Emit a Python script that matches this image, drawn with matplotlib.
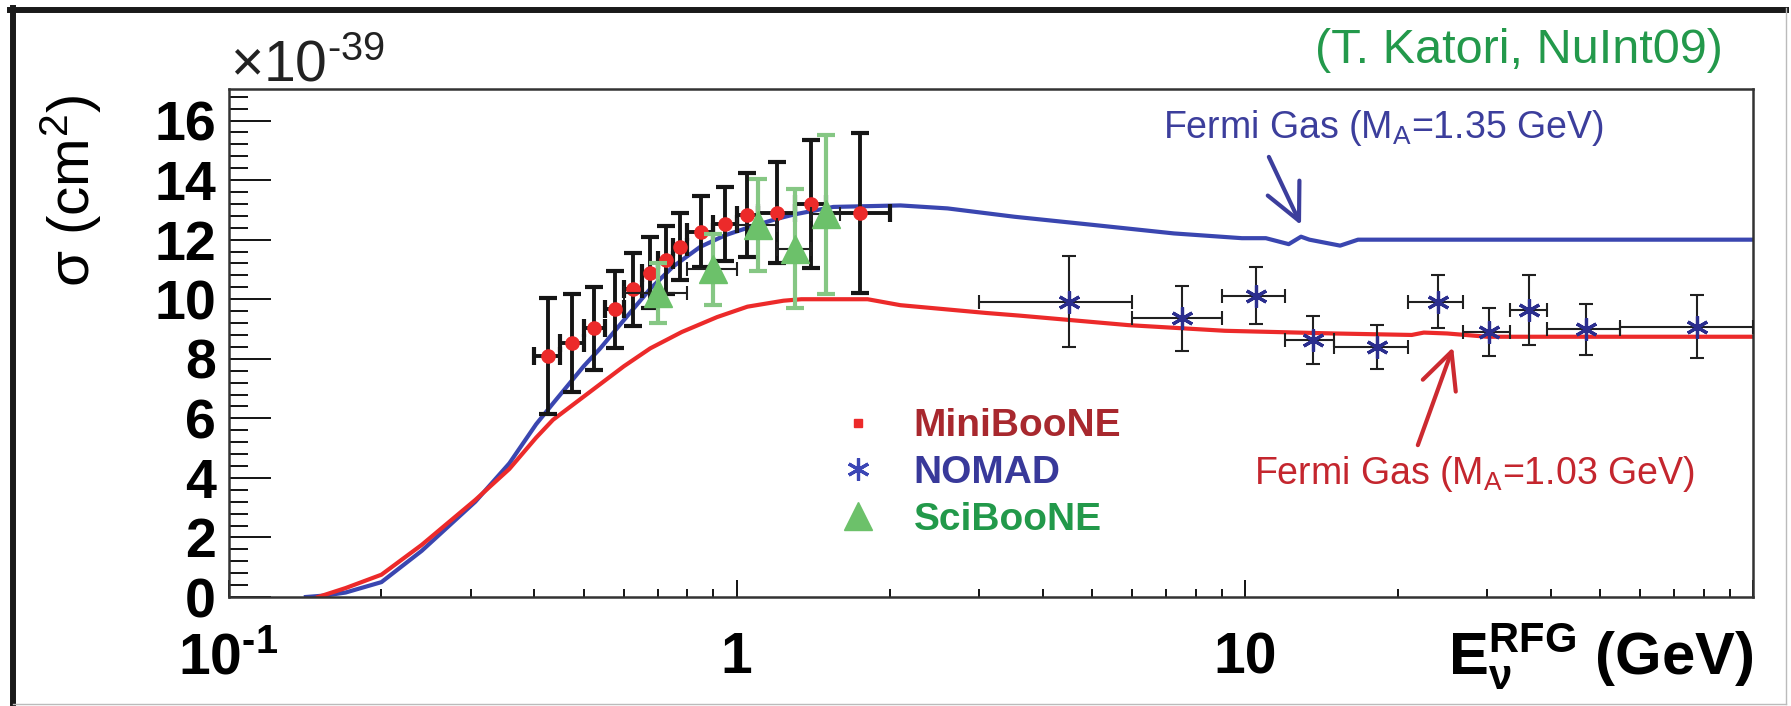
import numpy as np
import matplotlib.pyplot as plt
from matplotlib.lines import Line2D
from matplotlib.ticker import FixedLocator, LogLocator, MultipleLocator, NullFormatter

plt.rcParams['font.family'] = ['Liberation Sans', 'DejaVu Sans']
plt.rcParams['font.weight'] = 'bold'
plt.rcParams['mathtext.fontset'] = 'custom'
plt.rcParams['mathtext.rm'] = 'Liberation Sans'
plt.rcParams['mathtext.it'] = 'Liberation Sans:italic'
plt.rcParams['mathtext.bf'] = 'Liberation Sans:bold'
plt.rcParams['mathtext.default'] = 'regular'

# RFG predictions (x1e-39 cm^2) vs neutrino energy (GeV)
ma135_e = [0.142, 0.155, 0.17, 0.2, 0.24, 0.306, 0.357, 0.403, 0.435, 0.5, 0.539, 0.6,
           0.676, 0.75, 0.848, 0.95, 1.064, 1.2, 1.3, 1.55, 2.1, 2.6, 3.52, 5.0, 7.25,
           9.87, 11.0, 12.2, 12.9, 13.4, 15.4, 16.7, 100.0]
ma135_xs = [0.0, 0.05, 0.15, 0.5, 1.55, 3.2, 4.49, 5.8, 6.5, 7.75, 8.35, 9.3,
            10.35, 11.1, 11.76, 12.15, 12.43, 12.7, 12.85, 13.1, 13.15, 13.05, 12.77, 12.5, 12.21,
            12.05, 12.05, 11.85, 12.1, 12.0, 11.8, 12.0, 12.0]
ma103_e = [0.15, 0.17, 0.2, 0.24, 0.306, 0.357, 0.403, 0.435, 0.493, 0.539, 0.6,
           0.676, 0.78, 0.915, 1.05, 1.236, 1.34, 1.81, 2.1, 3.09, 3.6, 5.9, 9.14,
           15.0, 21.3, 22.5, 25.0, 30.0, 100.0]
ma103_xs = [0.0, 0.3, 0.75, 1.75, 3.26, 4.3, 5.35, 5.95, 6.65, 7.15, 7.75,
            8.35, 8.9, 9.4, 9.75, 9.95, 10.0, 10.0, 9.8, 9.54, 9.45, 9.13, 8.94,
            8.85, 8.8, 8.88, 8.85, 8.74, 8.74]

# MiniBooNE
mb_e = [0.425, 0.475, 0.525, 0.575, 0.625, 0.675, 0.725, 0.775, 0.85, 0.95, 1.05, 1.2, 1.4, 1.75]
mb_de = [0.025, 0.025, 0.025, 0.025, 0.025, 0.025, 0.025, 0.025, 0.05, 0.05, 0.05, 0.1, 0.1, 0.25]
mb_xs = [8.09, 8.54, 9.02, 9.66, 10.33, 10.89, 11.32, 11.76, 12.27, 12.52, 12.83, 12.9, 13.2, 12.9]
mb_err = [1.95, 1.65, 1.4, 1.3, 1.22, 1.2, 1.14, 1.12, 1.2, 1.25, 1.4, 1.7, 2.15, 2.68]

# SciBooNE
sb_e = [0.7, 0.9, 1.1, 1.3, 1.5]
sb_de = [0.1, 0.1, 0.1, 0.1, 0.1]
sb_xs = [10.2, 11.0, 12.5, 11.7, 12.85]
sb_err = [1.0, 1.18, 1.55, 2.0, 2.68]

# NOMAD
nd_e = [4.5, 7.53, 10.5, 13.6, 18.2, 24.0, 30.3, 36.2, 46.9, 77.5]
nd_lo = [3.0, 6.0, 9.0, 12.0, 15.0, 20.9, 26.9, 33.2, 39.3, 54.8]
nd_hi = [6.0, 9.0, 12.0, 15.0, 20.9, 26.9, 33.2, 39.3, 54.8, 100.0]
nd_xs = [9.92, 9.36, 10.12, 8.63, 8.4, 9.92, 8.89, 9.64, 8.99, 9.08]
nd_err = [1.52, 1.1, 0.95, 0.8, 0.75, 0.9, 0.8, 1.18, 0.85, 1.05]

W, H = 1791, 706
fig = plt.figure(figsize=(W / 100, H / 100), dpi=100)
ax = fig.add_axes([228.5 / W, (H - 597) / H, (1753 - 228.5) / W, (597 - 89) / H])

RED = '#ec2a2a'
BLUE = '#3a46b0'
GREEN = '#6cc16a'
HY = '\u2010'  # short hyphen used in exponents

ax.plot(ma135_e, ma135_xs, color=BLUE, lw=3, zorder=2)
ax.plot(ma103_e, ma103_xs, color=RED, lw=3, zorder=2)

ax.errorbar(mb_e, mb_xs, xerr=mb_de, yerr=mb_err, fmt='o', ms=9.5, color=RED,
            ecolor='#151515', elinewidth=2.8, capsize=6.5, capthick=3, zorder=4)

ax.errorbar(sb_e, sb_xs, xerr=sb_de, fmt='none', ecolor='#202020', elinewidth=1.5,
            capsize=5, capthick=1.5, zorder=5)
ax.errorbar(sb_e, sb_xs, yerr=sb_err, fmt='^', ms=20, color=GREEN, ecolor='#86c784',
            elinewidth=3, capsize=6.5, capthick=3, zorder=6)

nd_e = np.array(nd_e)
nd_xerr = [nd_e - np.array(nd_lo), np.array(nd_hi) - nd_e]
ax.errorbar(nd_e, nd_xs, xerr=nd_xerr, yerr=nd_err, fmt='none', ecolor='#202020',
            elinewidth=1.5, capsize=5, capthick=1.5, zorder=4)
ax.plot(nd_e, nd_xs, ls='none', marker=(6, 2, 0), ms=16, mew=2.3, color='#2b2e8e', zorder=5)

ax.set_xscale('log')
ax.set_xlim(0.1, 100)
ax.set_ylim(0, 17.06)

ax.xaxis.set_major_locator(FixedLocator([0.1, 1, 10, 100]))
ax.set_xticklabels([r'$\mathbf{10^{' + HY + r'1}}$', '1', '10', ''])
ax.xaxis.set_minor_locator(LogLocator(base=10, subs=range(2, 10)))
ax.xaxis.set_minor_formatter(NullFormatter())
ax.yaxis.set_major_locator(MultipleLocator(2))
ax.yaxis.set_minor_locator(MultipleLocator(0.4))

ax.tick_params(axis='y', which='major', direction='in', length=30, width=1.3,
               labelsize=40, pad=9, right=False)
ax.tick_params(axis='y', which='minor', direction='in', length=14, width=1.3, right=False)
ax.tick_params(axis='x', which='major', direction='in', length=12, width=1.3,
               labelsize=41, pad=55, top=False)
ax.tick_params(axis='x', which='minor', direction='in', length=6, width=1.3, top=False)
for tick in ax.xaxis.get_major_ticks():
    tick.label1.set_verticalalignment('baseline')

for sp in ax.spines.values():
    sp.set_color('#333333')
    sp.set_linewidth(1.8)

ax.set_ylabel('σ (cm$^2$)', fontsize=42, va='center')
ax.yaxis.set_label_coords(-0.103, 0.80)

ax.text(1.0, -0.153, r'$\mathbf{E}_{\nu}^{\mathbf{RFG}}$ (GeV)', transform=ax.transAxes,
        ha='right', va='baseline', fontsize=43)

fig.text(230 / W, 1 - 82 / H, r'$\times$10$^{' + HY + '39}$', ha='left', va='baseline',
         fontsize=41, fontweight='normal', color='#222222')
fig.text(1723 / W, 1 - 63 / H, '(T. Katori, NuInt09)', ha='right', va='baseline',
         fontsize=35, fontweight='normal', color='#23994b')

# model labels with hand-drawn style arrows
ax.text(18.75, 15.41, 'Fermi Gas (M$_A$=1.35 GeV)', ha='center', va='baseline',
        fontsize=27, fontweight='normal', color='#3c3e9c')
ax.annotate('', xy=(12.9, 12.49), xytext=(11.15, 14.78),
            arrowprops=dict(arrowstyle='->, head_length=1.3, head_width=0.63',
                            color='#3c3e9c', lw=3, mutation_scale=20, shrinkA=0, shrinkB=0))
ax.text(28.3, 3.79, 'Fermi Gas (M$_A$=1.03 GeV)', ha='center', va='baseline',
        fontsize=27, fontweight='normal', color='#c4262e')
ax.annotate('', xy=(25.7, 8.39), xytext=(21.9, 5.10),
            arrowprops=dict(arrowstyle='->, head_length=1.3, head_width=0.63',
                            color='#cc2a30', lw=3, mutation_scale=20, shrinkA=0, shrinkB=0))

handles = [Line2D([], [], ls='none', marker='s', ms=5.5, color=RED),
           Line2D([], [], ls='none', marker=(6, 2, 0), ms=16, mew=2.3, color='#3b46b5'),
           Line2D([], [], ls='none', marker='^', ms=20, color=GREEN)]
leg = ax.legend(handles, ['MiniBooNE', 'NOMAD', 'SciBooNE'], loc='center left',
                bbox_to_anchor=(0.4002, 0.244), frameon=False,
                prop={'size': 28, 'weight': 'bold'}, handlelength=1.0, handletextpad=0.93,
                borderpad=0, borderaxespad=0, labelspacing=0.28)
for txt, c in zip(leg.get_texts(), ['#a8282e', '#38399a', '#22994a']):
    txt.set_color(c)

# canvas border
fig.add_artist(Line2D([13 / W, 13 / W], [1 - 8 / H, 1 - 705 / H], color='#1a1a1a', lw=4.3))
fig.add_artist(Line2D([10 / W, 1786 / W], [1 - 10 / H, 1 - 10 / H], color='#1a1a1a', lw=4.3))
fig.add_artist(Line2D([1786 / W, 1786 / W], [1 - 8 / H, 1 - 704 / H], color='#bbbbbb', lw=1))
fig.add_artist(Line2D([13 / W, 1786 / W], [1 - 704 / H, 1 - 704 / H], color='#bbbbbb', lw=1))

fig.savefig('out.png', dpi=100)
